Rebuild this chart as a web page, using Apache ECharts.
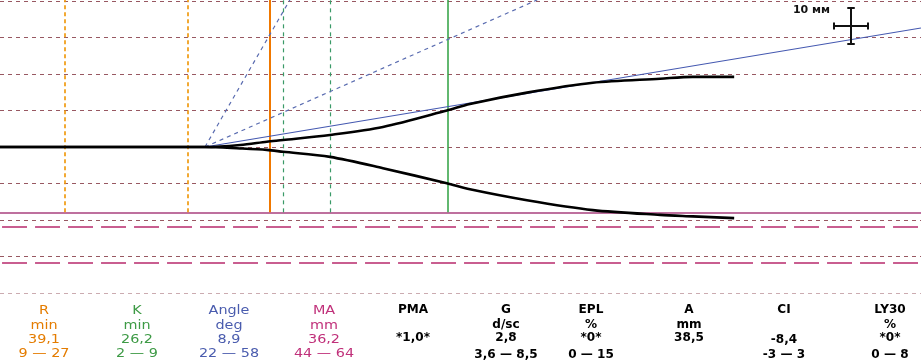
<!DOCTYPE html>
<html><head><meta charset="utf-8">
<script src="https://cdn.jsdelivr.net/npm/echarts@6/dist/echarts.min.js"></script>
<style>html,body{margin:0;padding:0;background:#fff}#c{width:921px;height:361px}</style>
</head><body><div id="c"></div>
<script>
// ---- data (time in min, amplitude in mm) ----
const timeMin = [-0.6, 29.6, 34.8, 38.7, 41.1, 48.0, 55.8, 65.2, 68.6, 77.0, 86.7, 96.6, 101.4, 107.5];
const upperMm = [0, 0, 0.55, 1.45, 1.9, 3.3, 5.5, 10.0, 11.8, 14.9, 17.6, 18.7, 19.2, 19.2];
const lowerMm = [0, 0, -0.4, -0.8, -1.3, -2.7, -5.8, -9.95, -11.6, -14.6, -17.3, -18.6, -19.0, -19.5];

const rTime = 39.1;
const kTime = 26.2;
const rRange = [9, 27];
const kRange = [2, 9];
const angleOrigin = [29.6, 0];
const angleEnd = [135, 32.6];
const angleRangeEnds = [[42.1, 40.3], [78.5, 40.3]];
const gridMm = [40, 30, 20, 10, 0, -10, -20, -30, -40];
const baseLineMm = -17.9;
const refDashMm = [-21.8, -31.7];
const scaleBarCenter = [124.7, 33.15];
const scaleBarMm = 10;
const scaleBarLabel = '10 мм';

const paramNames  = ['R', 'K', 'Angle', 'MA', 'PMA', 'G', 'EPL', 'A', 'CI', 'LY30'];
const paramUnits  = ['min', 'min', 'deg', 'mm', '', 'd/sc', '%', 'mm', '', '%'];
const paramValues = ['39,1', '26,2', '8,9', '36,2', '*1,0*', '2,8', '*0*', '38,5', '-8,4', '*0*'];
const paramRanges = ['9 — 27', '2 — 9', '22 — 58', '44 — 64', '', '3,6 — 8,5', '0 — 15', '', '-3 — 3', '0 — 8'];

// ---- layout / style ----
const X_MIN = -0.57, X_MAX = 135.0, Y_MIN = -40, Y_MAX = 40.27;
const colX = [44, 137, 229, 324, 413, 506, 591, 689, 784, 890];
const colColor = ['#e47c00', '#3d9a45', '#4a5cae', '#c0307a', '#000', '#000', '#000', '#000', '#000', '#000'];

function seg(coords) { return { coords: coords }; }
function segSeries(data, style, z) {
  return { type: 'lines', coordinateSystem: 'cartesian2d', polyline: false, silent: true,
           z: z || 2, symbol: 'none', lineStyle: Object.assign({ opacity: 1 }, style), data: data, animation: false };
}

const series = [];
// dashed grid
series.push(segSeries(gridMm.map(v => seg([[X_MIN, v], [X_MAX, v]])), { color: '#985862', width: 1, type: [4, 4] }, 1));
// base solid line
series.push(segSeries([seg([[X_MIN, baseLineMm], [X_MAX, baseLineMm]])], { color: '#a8407e', width: 1.5 }, 2));
// long dashed reference lines
series.push(segSeries(refDashMm.map(v => seg([[X_MIN + 0.3, v], [X_MAX, v]])), { color: '#b82a6c', width: 1.7, type: [25, 8] }, 2));
// R normal range (dashed orange) and R (solid orange)
series.push(segSeries(rRange.map(v => seg([[v, baseLineMm], [v, Y_MAX]])), { color: '#f09a10', width: 1.7, type: [4, 3] }, 3));
series.push(segSeries([seg([[rTime, baseLineMm], [rTime, Y_MAX]])], { color: '#f07800', width: 2 }, 3));
// K normal range (dashed green) and R+K (solid green)
series.push(segSeries(kRange.map(v => seg([[rTime + v, baseLineMm], [rTime + v, Y_MAX]])), { color: '#3a9a68', width: 1.2, type: [4, 4] }, 3));
series.push(segSeries([seg([[rTime + kTime, baseLineMm], [rTime + kTime, Y_MAX]])], { color: '#2ea040', width: 1.5 }, 3));
// angle range lines (dashed) and angle (solid)
series.push(segSeries(angleRangeEnds.map(e => seg([angleOrigin, e])), { color: '#5a6cb0', width: 1.2, type: [4, 4] }, 4));
series.push(segSeries([seg([angleOrigin, angleEnd])], { color: '#4458b0', width: 1.2 }, 4));
// tracing
const curveStyle = { showSymbol: false, symbol: 'none', smooth: 0.3,
  lineStyle: { color: '#000', width: 2.6 }, z: 6, silent: true, animation: false };
series.push(Object.assign({ type: 'line', data: timeMin.map((t, i) => [t, upperMm[i]]) }, curveStyle));
series.push(Object.assign({ type: 'line', data: timeMin.map((t, i) => [t, lowerMm[i]]) }, curveStyle));
// 10 mm scale cross (10 mm vertical, 10 mm = 5 min horizontal at 2 mm/min)
const cx = scaleBarCenter[0], cy = scaleBarCenter[1], hv = scaleBarMm / 2, hh = scaleBarMm / 4;
series.push(segSeries([
  seg([[cx, cy - hv], [cx, cy + hv]]),
  seg([[cx - hh, cy], [cx + hh, cy]]),
  seg([[cx - 0.55, cy + hv], [cx + 0.55, cy + hv]]),
  seg([[cx - 0.55, cy - hv], [cx + 0.55, cy - hv]]),
  seg([[cx - hh, cy - 0.95], [cx - hh, cy + 0.95]]),
  seg([[cx + hh, cy - 0.95], [cx + hh, cy + 0.95]])
], { color: '#111', width: 2 }, 7));

// bottom parameter table as text
const graphic = [];
const rowsPlain = [311, 326.5, 340, 354.5];
const rowsBold = [310.5, 325, 338, 355.5];
paramNames.forEach((n, i) => {
  const bold = i >= 4;
  const rows = bold ? rowsBold : rowsPlain;
  const texts = [n, paramUnits[i], paramValues[i], paramRanges[i]];
  texts.forEach((t, r) => {
    if (!t) return;
    let y = rows[r];
    if (n === 'CI' && r === 2) y = 340.5;
    graphic.push({ type: 'text', x: colX[i], y: y, scaleX: bold ? 1.05 : 1.25, silent: true,
      style: { text: t, fill: colColor[i], align: 'center', verticalAlign: 'middle',
        font: (bold ? 'bold 11.5px' : '11.5px') + ' "DejaVu Sans", Verdana, sans-serif' } });
  });
});
graphic.push({ type: 'text', x: 830, y: 10.5, silent: true,
  style: { text: scaleBarLabel, fill: '#111', align: 'right', verticalAlign: 'middle',
    font: 'bold 11px "DejaVu Sans", sans-serif' } });

const chart = echarts.init(document.getElementById('c'), null, { renderer: 'canvas' });
chart.setOption({
  backgroundColor: '#fff',
  animation: false,
  grid: { left: 0, width: 921, top: 0, height: 293, containLabel: false },
  xAxis: { type: 'value', min: X_MIN, max: X_MAX, show: false, splitLine: { show: false } },
  yAxis: { type: 'value', min: Y_MIN, max: Y_MAX, show: false, splitLine: { show: false } },
  series: series,
  graphic: graphic
});
</script></body></html>
